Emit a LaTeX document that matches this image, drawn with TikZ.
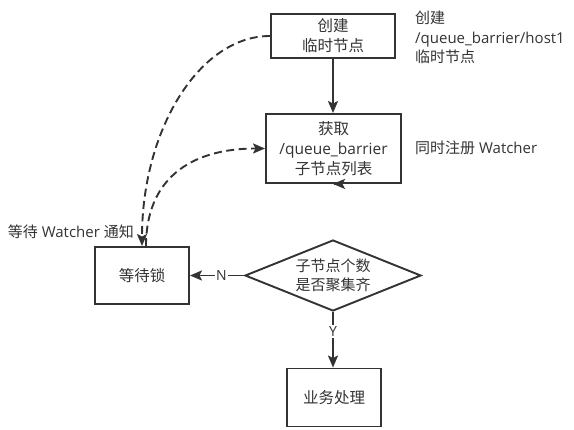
\documentclass[tikz,border=0pt]{standalone}
\usepackage{fontspec}
\setmainfont{Open Sans}
\newfontfamily\cjk{Noto Sans CJK SC}
\usetikzlibrary{shapes.geometric,arrows.meta}
\newcommand\zh[1]{{\cjk #1}}
\definecolor{ink}{HTML}{333333}
\begin{document}
\begin{tikzpicture}[x=1pt,y=-1pt,
  every node/.style={text=ink},
  boxnode/.style={draw=ink,line width=1.9pt,fill=white,rectangle,inner sep=0pt,align=center,
    font=\fontsize{15.5}{20}\selectfont},
  decnode/.style={draw=ink,line width=1.9pt,fill=white,diamond,aspect=2.48,inner sep=0pt,align=center,
    minimum width=176pt,minimum height=71pt,font=\fontsize{15}{19}\selectfont},
  notenode/.style={inner sep=0pt,align=left,font=\fontsize{15}{19.5}\selectfont},
  flow/.style={draw=ink,line width=1.9pt,-{Stealth[length=12pt,width=10pt,inset=2.5pt]}},
  dflow/.style={flow,dash pattern=on 8pt off 4.5pt},
  yn/.style={fill=white,inner sep=1.5pt,font=\fontsize{14}{16}\selectfont}
]
\useasboundingbox (0,0) rectangle (574,430);

\node[boxnode,minimum width=124pt,minimum height=44pt] (b1) at (333,36) {\zh{创建}\\\zh{临时节点}};
\node[boxnode,minimum width=135pt,minimum height=69pt] (b2) at (333.5,148.5)
  {\zh{获取}\\/queue\_barrier\\\zh{子节点列表}};
\node[decnode] (dia) at (333,275.5) {\zh{子节点个数}\\\zh{是否聚集齐}};
\node[boxnode,minimum width=94pt,minimum height=57pt] (wait) at (142,275.5) {\zh{等待锁}};
\node[boxnode,minimum width=94pt,minimum height=58pt] (biz) at (334,397.5) {\zh{业务处理}};

\node[notenode,anchor=west] (n1) at (415,37.5)
  {\zh{创建}\\/queue\_barrier/host1\\\zh{临时节点}};
\node[notenode,anchor=west] (n2) at (415,148) {\zh{同时注册} Watcher};
\node[notenode,anchor=east] (n3) at (134,232) {\zh{等待} Watcher \zh{通知}};

\draw[flow] (b1.south) -- (b1.south |- b2.north);
\draw[flow] (b2.south) -- (b2.south -| dia.north);
\draw[flow] (dia.west) -- node[yn,pos=0.42] {N} (wait.east);
\draw[flow] (dia.south) -- node[yn,pos=0.35] {Y} (dia.south |- biz.north);

\draw[dflow] (b1.west) .. controls +(-71,0) and +(0,-116) .. (wait.north);
\draw[dflow] ([xshift=4pt]wait.north) .. controls +(0,-66) and +(-76,0) .. (b2.west);
\end{tikzpicture}
\end{document}
